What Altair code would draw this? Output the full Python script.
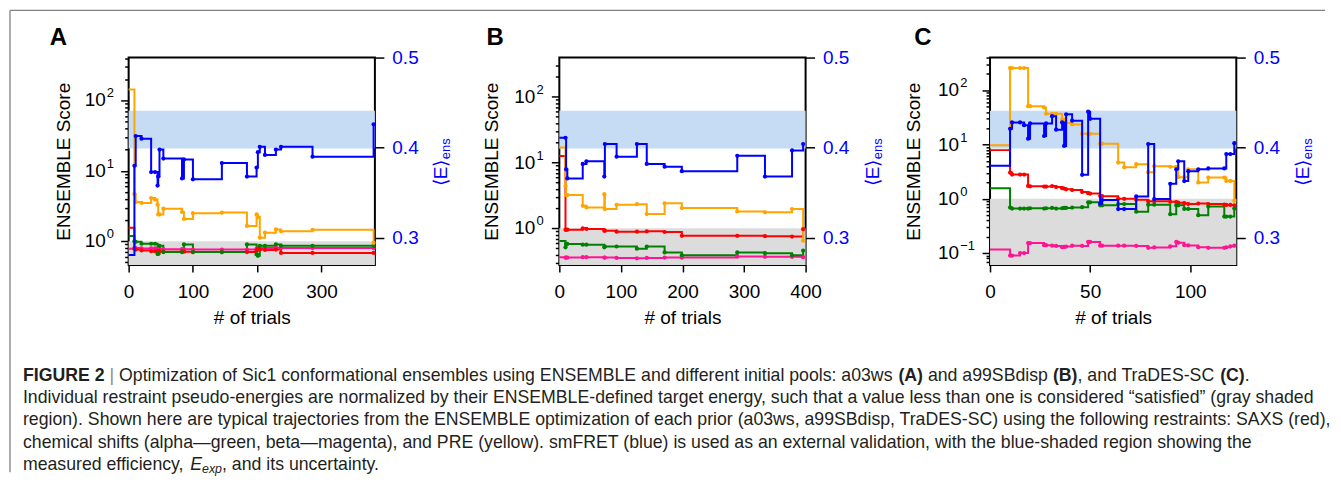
import math
import altair as alt
import pandas as pd

# ------------------------------------------------------------------ data
series_names = ["chemical shifts beta", "SAXS", "chemical shifts alpha", "PRE"]
series_colors = ["#ff1493", "#ff0000", "#008000", "#ffa500"]
fret_color = "#0000ff"
gray_color = "#dcdcdc"
band_color = "#c6dcf5"

E_domain = [0.27, 0.5]
E_band = [0.399, 0.441]          # measured E_exp and its uncertainty
satisfied_level = 1.0            # score < 1 is "satisfied"
E_ticks = [0.3, 0.4, 0.5]

# Panel A : a03ws
trials_A = [0, 9, 11, 20, 35, 41, 45, 46, 48, 54, 83, 86, 100, 145, 184, 199, 201, 204, 212, 229, 237, 286, 381]
saxs_A = [1.55, 0.78, 0.76, 0.74, 0.72, 0.72, 0.72, 0.72, 0.72, 0.71, 0.71, 0.71, 0.70, 0.70, 0.70, 0.74, 0.78, 0.76, 0.75, 0.76, 0.68, 0.68, 0.68]
alpha_A = [1.19, 1.0, 0.98, 0.92, 0.92, 0.92, 0.66, 0.66, 0.86, 0.70, 0.70, 0.90, 0.70, 0.70, 0.90, 0.65, 0.62, 0.86, 0.86, 0.90, 0.86, 0.86, 0.86]
beta_A = [0.78, 0.80, 0.80, 0.79, 0.79, 0.79, 0.78, 0.78, 0.78, 0.77, 0.77, 0.77, 0.76, 0.76, 0.76, 0.78, 0.80, 0.80, 0.80, 0.81, 0.80, 0.80, 0.80]
pre_A = [143, 4.7, 3.6, 3.5, 4.1, 3.9, 3.3, 2.4, 2.4, 2.9, 2.6, 2.07, 2.5, 2.55, 1.65, 2.4, 2.2, 1.12, 1.32, 1.47, 1.38, 1.45, 0.95]
fret_A = [0.281, 0.380, 0.413, 0.410, 0.373, 0.373, 0.358, 0.368, 0.398, 0.388, 0.366, 0.387, 0.365, 0.383, 0.368, 0.378, 0.395, 0.401, 0.392, 0.398, 0.401, 0.390, 0.426]

# Panel B : a99SBdisp
trials_B = [0, 10, 11, 13, 38, 44, 73, 74, 93, 126, 142, 171, 199, 289, 334, 378, 396]
saxs_B = [12.6, 0.95, 0.955, 0.955, 1.0, 0.98, 0.92, 0.92, 0.89, 0.89, 0.9, 0.88, 0.77, 0.77, 0.76, 0.75, 0.97]
alpha_B = [0.64, 0.515, 0.58, 0.58, 0.565, 0.565, 0.515, 0.53, 0.53, 0.49, 0.53, 0.43, 0.39, 0.43, 0.42, 0.39, 0.46]
beta_B = [0.365, 0.36, 0.36, 0.36, 0.365, 0.365, 0.36, 0.36, 0.355, 0.35, 0.355, 0.36, 0.36, 0.375, 0.37, 0.37, 0.365]
pre_B = [16.9, 4.4, 3.2, 3.2, 2.2, 2.08, 3.3, 1.96, 2.28, 2.33, 1.65, 2.4, 2.03, 1.81, 1.75, 1.96, 0.65]
fret_B = [0.411, 0.411, 0.376, 0.366, 0.382, 0.385, 0.368, 0.404, 0.390, 0.404, 0.382, 0.379, 0.374, 0.391, 0.368, 0.397, 0.404]

# Panel C : TraDES-SC
trials_C = [0, 10, 11, 15, 17, 19, 20, 27, 28, 31, 33, 36, 37, 38, 41, 46, 49, 50, 55, 56, 64, 67, 73, 79, 82, 90, 93, 94, 97, 99, 104, 109, 117, 118, 120, 122]
saxs_C = [7.9, 3.05, 2.8, 2.8, 2.8, 1.73, 1.70, 1.68, 1.68, 1.72, 1.65, 1.57, 1.55, 1.5, 1.45, 1.33, 1.27, 1.25, 1.13, 1.12, 1.0, 1.0, 0.96, 0.9, 0.9, 0.88, 0.87, 0.85, 0.83, 0.8, 0.82, 0.8, 0.78, 0.77, 0.77, 0.76]
alpha_C = [1.57, 0.69, 0.66, 0.66, 0.66, 0.66, 0.67, 0.66, 0.67, 0.68, 0.66, 0.67, 0.68, 0.68, 0.69, 0.7, 0.86, 0.86, 0.76, 0.76, 0.8, 0.8, 0.58, 0.78, 0.78, 0.52, 0.76, 0.76, 0.65, 0.65, 0.5, 0.72, 0.47, 0.47, 0.47, 0.66]
beta_C = [0.116, 0.09, 0.09, 0.10, 0.10, 0.153, 0.153, 0.14, 0.14, 0.137, 0.135, 0.128, 0.13, 0.132, 0.137, 0.135, 0.16, 0.16, 0.137, 0.137, 0.137, 0.137, 0.135, 0.125, 0.127, 0.133, 0.16, 0.155, 0.14, 0.138, 0.128, 0.125, 0.125, 0.128, 0.133, 0.137]
pre_C = [9.7, 257, 257, 257, 257, 51, 51, 48, 37, 37, 37, 29, 29, 25, 23.5, 15.8, 15.8, 15.8, 10.4, 10.4, 4.65, 3.8, 4.35, 3.1, 4.0, 3.9, 3.9, 2.5, 2.5, 3.5, 2.0, 2.47, 2.47, 2.14, 2.14, 0.92]
fret_C = [0.380, 0.421, 0.428, 0.428, 0.425, 0.410, 0.427, 0.413, 0.427, 0.435, 0.420, 0.428, 0.402, 0.437, 0.430, 0.370, 0.440, 0.432, 0.338, 0.342, 0.332, 0.332, 0.346, 0.404, 0.343, 0.360, 0.376, 0.385, 0.363, 0.374, 0.376, 0.377, 0.377, 0.393, 0.393, 0.405]

# axis tick labels
xticks_A = [0, 100, 200, 300]
xticks_B = [0, 100, 200, 300, 400]
xticks_C = [0, 50, 100]
ymajor_AB = [1, 10, 100]
yexp_AB = ["0", "1", "2"]
ymajor_C = [0.1, 1, 10, 100]
yexp_C = ["\u22121", "0", "1", "2"]

caption_lines = [
    [("FIGURE 2", "b"), (" | ", "g"),
     ("Optimization of Sic1 conformational ensembles using ENSEMBLE and different initial pools: a03ws ", "n"),
     ("(A)", "b"), (" and a99SBdisp ", "n"), ("(B)", "b"), (", and TraDES-SC ", "n"), ("(C)", "b"), (".", "n")],
    [("Individual restraint pseudo-energies are normalized by their ENSEMBLE-defined target energy, such that a value less than one is considered \u201csatisfied\u201d (gray shaded", "n")],
    [("region). Shown here are typical trajectories from the ENSEMBLE optimization of each prior (a03ws, a99SBdisp, TraDES-SC) using the following restraints: SAXS (red),", "n")],
    [("chemical shifts (alpha\u2014green, beta\u2014magenta), and PRE (yellow). smFRET (blue) is used as an external validation, with the blue-shaded region showing the", "n")],
    [("measured efficiency, ", "n"), ("E", "i"), ("exp", "is"), (", and its uncertainty.", "n")],
]

# ------------------------------------------------------------------ style
W, H = 247, 208
FONT = "Liberation Sans"
FS = 19

REG = {}
for chars, w in [("abdeghnopqu0123456789#$?_L", 556), ("ckszvxyJ", 500), ("ft I.,:;!/[]", 278),
                 ("ijl", 222), ("r()-\u201c\u201d`", 333), ("mM", 833), ("wCDHNRU", 722),
                 ("ABEKPSVXY", 667), ("FTZ", 611), ("GOQ", 778), ("W", 944), ("\u2014", 1000),
                 ("|", 260), ("'", 191), ('"', 355)]:
    for c in chars:
        REG[c] = w
BOLD = dict(REG)
for chars, w in [("ABCDHRU", 722), ("E", 667), ("F", 611), ("G", 778), ("I ", 278), ("()", 333)]:
    for c in chars:
        BOLD[c] = w


def tw(s, table, size):
    return sum(table.get(c, 556) for c in s) * size / 1000.0


cap_fs = 1297.0 / tw(caption_lines[1][0][0], REG, 1.0)
cap_x0 = -106
cap_base = [324.0, 346.5, 369.0, 391.5, 414.0]

one = pd.DataFrame({"a": [0]})
caption_layers = []
for li, segs in enumerate(caption_lines):
    x = cap_x0
    for txt, st in segs:
        table = BOLD if st == "b" else REG
        size = cap_fs * 0.7 if st == "is" else cap_fs
        y = cap_base[li] + (3 if st == "is" else 0)
        lead = len(txt) - len(txt.lstrip(" "))
        shown = txt.strip(" ")
        caption_layers.append(
            alt.Chart(one).mark_text(
                text=shown, align="left", baseline="alphabetic", font=FONT, fontSize=size,
                fontWeight="bold" if st == "b" else "normal",
                fontStyle="italic" if st in ("i", "is") else "normal",
                color="#8c8c8c" if st == "g" else "#231f20",
            ).encode(x=alt.value(x + tw(" " * lead, table, size)), y=alt.value(y))
        )
        x += tw(txt, table, size)

frame_layers = [
    alt.Chart(one).mark_rule(color="#808080", strokeWidth=1.3).encode(
        x=alt.value(-119), x2=alt.value(1200), y=alt.value(-47.3), y2=alt.value(-47.3)),
    alt.Chart(one).mark_rule(color="#808080", strokeWidth=1.3).encode(
        x=alt.value(-119), x2=alt.value(-119), y=alt.value(-47.3), y2=alt.value(416)),
]


def minor_ticks(lo, hi):
    vals = []
    for k in range(math.floor(math.log10(lo)), math.ceil(math.log10(hi)) + 1):
        for m in range(1, 10):
            v = round(m * 10 ** k, 6)
            if lo <= v <= hi:
                vals.append(v)
    return vals


TICK_COND = {"condition": {"test": "abs(log(datum.value)/LN10 - round(log(datum.value)/LN10)) < 0.01",
                           "value": 8}, "value": 4}


def panel(trials, saxs, alpha, beta, pre, fret, xmax, ylo, yhi, xticks, ymaj, yexp,
          letter, lay, extra=()):
    ysc = alt.Scale(type="log", domain=[ylo, yhi], nice=False)
    esc = alt.Scale(domain=E_domain, nice=False, zero=False)
    xsc = alt.Scale(domain=[0, xmax], nice=False, zero=False)

    recs = []
    for name, arr in zip(series_names, [beta, saxs, alpha, pre]):
        for i, (t, v) in enumerate(zip(trials, arr)):
            recs.append({"trial": t, "score": v, "series": name, "hasdot": i > 0})
    df = pd.DataFrame(recs)
    dfe = pd.DataFrame({"trial": trials, "E": fret, "hasdot": [i > 0 for i in range(len(trials))]})
    df_pts = df[df["hasdot"]]
    dfe_pts = dfe[dfe["hasdot"]]

    allticks = sorted(set(minor_ticks(ylo, yhi)) | set(ymaj))
    color = alt.Color("series:N", scale=alt.Scale(domain=series_names, range=series_colors), legend=None)

    left_axis = alt.Axis(
        orient="left", values=allticks, labels=False, tickSize=TICK_COND,
        title="ENSEMBLE Score", titleX=lay["ytitle"], titleY=H / 2, titleAngle=270,
        titleAlign="center", titleBaseline="middle")
    right_axis = alt.Axis(
        orient="right", values=E_ticks, format=".1f", labelColor=fret_color,
        tickSize=9, labelPadding=8, title=None)
    xaxis = alt.Axis(values=xticks, labelFlush=False, tickSize=7, labelPadding=11,
                     title="# of trials", titleX=W / 2, titleY=53, titleAlign="center",
                     titleBaseline="middle")

    gray = alt.Chart(pd.DataFrame({"lo": [satisfied_level]})).mark_rect(color=gray_color).encode(
        x=alt.value(0), x2=alt.value(W),
        y=alt.Y("lo:Q", scale=ysc, axis=None),
        y2=alt.value(H),
    )
    band = alt.Chart(pd.DataFrame({"lo": [E_band[0]], "hi": [E_band[1]]})).mark_rect(color=band_color).encode(
        x=alt.value(0), x2=alt.value(W),
        y=alt.Y("lo:Q", scale=esc, axis=None),
        y2="hi:Q",
    )
    lines = alt.Chart(df).mark_line(interpolate="step-after", strokeWidth=2).encode(
        x=alt.X("trial:Q", scale=xsc, axis=xaxis),
        y=alt.Y("score:Q", scale=ysc, axis=left_axis),
        color=color,
    )
    pts = alt.Chart(df_pts).mark_circle(size=18, opacity=1).encode(
        x=alt.X("trial:Q", scale=xsc),
        y=alt.Y("score:Q", scale=ysc, axis=None),
        color=color,
    )
    eline = alt.Chart(dfe).mark_line(interpolate="step-after", strokeWidth=2, color=fret_color).encode(
        x=alt.X("trial:Q", scale=xsc),
        y=alt.Y("E:Q", scale=esc, axis=right_axis),
    )
    epts = alt.Chart(dfe_pts).mark_circle(size=18, opacity=1, color=fret_color).encode(
        x=alt.X("trial:Q", scale=xsc),
        y=alt.Y("E:Q", scale=esc, axis=None),
    )
    lab = pd.DataFrame({"v": ymaj, "e": yexp})
    base = alt.Chart(lab).mark_text(align="right", baseline="middle", font=FONT, fontSize=FS,
                                    text="10", color="black").encode(
        x=alt.value(lay["base"]), y=alt.Y("v:Q", scale=ysc, axis=None))
    sup = alt.Chart(lab).mark_text(align="left", baseline="middle", font=FONT, fontSize=13,
                                   dy=-7, color="black").encode(
        x=alt.value(lay["sup"]), y=alt.Y("v:Q", scale=ysc, axis=None), text="e:N")
    let = alt.Chart(pd.DataFrame({"t": [letter]})).mark_text(
        align="left", baseline="alphabetic", font=FONT, fontSize=24, fontWeight="bold", color="black"
    ).encode(x=alt.value(lay["letter"]), y=alt.value(-13), text="t:N")
    et = alt.Chart(pd.DataFrame({"t": ["\u27e8E\u27e9"]})).mark_text(
        angle=270, align="left", baseline="middle", font=FONT, fontSize=FS, color=fret_color
    ).encode(x=alt.value(W + lay["etitle"]), y=alt.value(129), text="t:N")
    es = alt.Chart(pd.DataFrame({"t": ["ens"]})).mark_text(
        angle=270, align="left", baseline="middle", font=FONT, fontSize=13, color=fret_color,
        dx=27, dy=5
    ).encode(x=alt.value(W + lay["etitle"]), y=alt.value(129), text="t:N")

    return alt.layer(gray, band, lines, pts, eline, epts, base, sup, let, et, es, *extra).resolve_scale(
        y="independent").properties(width=W, height=H)


pA = panel(trials_A, saxs_A, alpha_A, beta_A, pre_A, fret_A, 383, 0.46, 407, xticks_A,
           ymajor_AB, yexp_AB, "A",
           {"ytitle": -65.5, "base": -23, "sup": -22, "letter": -79, "etitle": 66},
           extra=frame_layers + caption_layers)
pB = panel(trials_B, saxs_B, alpha_B, beta_B, pre_B, fret_B, 400, 0.278, 394, xticks_B,
           ymajor_AB, yexp_AB, "B",
           {"ytitle": -68, "base": -24, "sup": -23, "letter": -73, "etitle": 68})
pC = panel(trials_C, saxs_C, alpha_C, beta_C, pre_C, fret_C, 123, 0.0604, 402, xticks_C,
           ymajor_C, yexp_C, "C",
           {"ytitle": -77, "base": -31, "sup": -30, "letter": -76, "etitle": 67})

chart = alt.hconcat(pA, pB, pC, spacing=185, bounds="flush").resolve_scale(
    x="independent", y="independent"
).properties(
    padding={"left": 0, "top": 0, "right": 0, "bottom": 0}
).configure_view(
    stroke="black", strokeWidth=2
).configure_axis(
    labelFont=FONT, titleFont=FONT, labelFontSize=FS, titleFontSize=FS,
    titleFontWeight="normal", labelColor="black", titleColor="black",
    tickColor="black", tickWidth=1.5, domain=False, grid=False,
)

chart.save("out.html", embed_options={"renderer": "svg", "actions": False})
